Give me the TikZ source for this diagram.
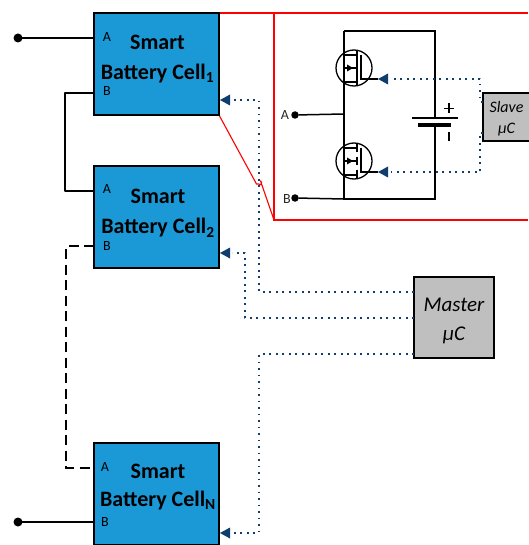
\documentclass[tikz,border=0pt]{standalone}
\usepackage{fontspec}
\setmainfont{Carlito}
\usetikzlibrary{arrows.meta}
\definecolor{cellblue}{HTML}{1B98D6}
\definecolor{ctrlblue}{HTML}{0F3D6E}
\definecolor{ctrlgray}{HTML}{BFBFBF}
\tikzset{
  cell/.style={draw=black,line width=1.7pt,fill=cellblue,minimum width=125pt,minimum height=102pt,inner sep=0pt,outer sep=0pt},
  ctrl/.style={draw=black,line width=1.7pt,fill=ctrlgray,inner sep=0pt,outer sep=0pt,font=\itshape},
  celltitle/.style={font=\fontsize{22}{26}\selectfont\bfseries,align=center,inner sep=0pt},
  port/.style={font=\fontsize{14}{16}\selectfont,inner sep=0pt},
  plabel/.style={font=\fontsize{14}{16}\selectfont,inner sep=0pt,text=black!85},
  thickwire/.style={line width=2.2pt,line cap=round,line join=round},
  wire/.style={line width=1.5pt,line join=round},
  circwire/.style={line width=1.4pt,line join=miter},
  dashwire/.style={line width=1.5pt,dash pattern=on 10pt off 5.5pt},
  ctrlline/.style={ctrlblue,line width=1.7pt,dash pattern=on 1.7pt off 4.8pt,line join=round},
  ctrltip/.style={fill=ctrlblue,draw=none},
  red box/.style={red,line width=1.1pt,line join=miter},
  dot/.style={circle,fill=black,minimum size=9pt,inner sep=0pt,outer sep=0pt},
  dotsm/.style={circle,fill=black,minimum size=7.5pt,inner sep=0pt,outer sep=0pt},
}
\newcommand{\cellname}[2]{Smart\\[#2]Battery Cell\textsubscript{#1}}
\newcommand{\ctrltip}[1]{\path[ctrltip] (#1) -- ++(10,-5.5) -- ++(0,11) -- cycle;}
\begin{document}
\begin{tikzpicture}[x=1pt,y=-1pt]
\useasboundingbox (0,0) rectangle (528,545);
% red detail outline
\draw[red box] (219,13) -- (528,13);
\draw[red box] (274,13) -- (274,220) -- (528,220);
\draw[red box] (219,115) -- (256.5,184) -- (258.5,184) arc[start angle=150,end angle=-70,radius=1.8] -- (274,220);
% cells
\node[cell] (c1) at (156.5,64) {};
\node[cell] (c2) at (156.5,217) {};
\node[cell] (cn) at (156.5,494) {};
\node[celltitle] (t1) at (157.5,59) {\cellname{1}{4pt}};
\node[celltitle] (t2) at (158,213.5) {\cellname{2}{4pt}};
\node[celltitle] (tn) at (158,487) {\cellname{N}{1.5pt}};
\node[port] (a1) at (107,37) {A};
\node[port] (b1) at (107,91) {B};
\node[port] (a2) at (107,189) {A};
\node[port] (b2) at (107,246) {B};
\node[port] (an) at (105,467) {A};
\node[port] (bn) at (105,522) {B};
% power wires
\node[dot] (top) at (18,38) {};
\node[dot] (bot) at (18,522) {};
\draw[thickwire] (top) -- (c1.west |- top);
\draw[thickwire] (bot) -- (cn.west |- bot);
\coordinate (p1b) at (94,93);
\coordinate (p2a) at (94,191);
\coordinate (p2b) at (94,246);
\coordinate (pna) at (94,468);
\draw[wire] (p1b) -- (65,93) -- (65,191) -- (p2a);
\draw[dashwire] (p2b) -- (66,246) -- (66,468) -- (pna);
% master
\node[ctrl,minimum width=80pt,minimum height=81pt] (master) at (454,317.5) {};
\node[font=\fontsize{21}{25}\selectfont\itshape,align=center,inner sep=0pt] (mt) at (454,320.5) {Master\\[4pt]µC};
\coordinate (in1) at (220,100);
\coordinate (in2) at (220,253);
\coordinate (inn) at (220,533);
\draw[ctrlline] (414,292) -- (259,292) -- (259,100) -- (232,100);
\draw[ctrlline] (414,318) -- (245,318) -- (245,253) -- (232,253);
\draw[ctrlline] (414,354) -- (259,354) -- (259,533) -- (232,533);
\ctrltip{in1}
\ctrltip{in2}
\ctrltip{inn}
% circuit
\draw[circwire] (344,31) -- (344,199) -- (435,199) -- (435,125);
\draw[circwire] (344,31) -- (435,31) -- (435,118);
\draw[line width=1.4pt] (412,118) -- (458,118);
\draw[line width=3.4pt] (418,125) -- (451,125);
\draw[line width=1.5pt] (449,103.5) -- (449,113) (444,108.5) -- (454,108.5);
\draw[line width=1.5pt] (449,132) -- (449,141);
% terminals
\node[dotsm] (ta) at (295,115) {};
\node[dotsm] (tb) at (295,198) {};
\node[plabel] (la) at (285,115.5) {A};
\node[plabel] (lb) at (287,199) {B};
\draw[wire] (ta) -- (344,114);
\draw[wire] (tb) -- (344,199);
% upper MOSFET
\node[circle,draw=black,line width=1.3pt,minimum size=36pt,inner sep=0pt] (q1) at (354,68) {};
\draw[line width=1.2pt] (344,55) -- (357,55) (344,82) -- (357,82) (344,68) -- (357,68);
\draw[line width=1.2pt] (357,50.5) -- (357,85);
\draw[line width=1.2pt] (361,55) -- (361,79) -- (378,79);
\fill (353,68) -- (347,64.5) -- (347,71.5) -- cycle;
% lower MOSFET
\node[circle,draw=black,line width=1.3pt,minimum size=36pt,inner sep=0pt] (q2) at (354,161) {};
\draw[line width=1.2pt] (344,148) -- (357,148) (344,175) -- (357,175) (344,161) -- (357,161);
\draw[line width=1.2pt] (357,144.5) -- (357,152) (357,157) -- (357,165) (357,170) -- (357,178);
\draw[line width=1.2pt] (361,148) -- (361,172) -- (378,172);
\fill (353,161) -- (347,157.5) -- (347,164.5) -- cycle;
% slave
\node[ctrl,anchor=north west,minimum width=50pt,minimum height=48pt] (slave) at (483,93) {};
\node[font=\fontsize{16}{19}\selectfont\itshape,align=center,inner sep=0pt] (st) at (506.5,118.5) {Slave\\[2.5pt]µC};
\coordinate (g1) at (378,79);
\coordinate (g2) at (378,172);
\draw[ctrlline] (slave.west |- 0,102) -- (480,102) -- (480,79) -- (391,79);
\draw[ctrlline] (slave.west |- 0,133) -- (480,133) -- (480,172) -- (391,172);
\ctrltip{g1}
\ctrltip{g2}
\end{tikzpicture}
\end{document}
